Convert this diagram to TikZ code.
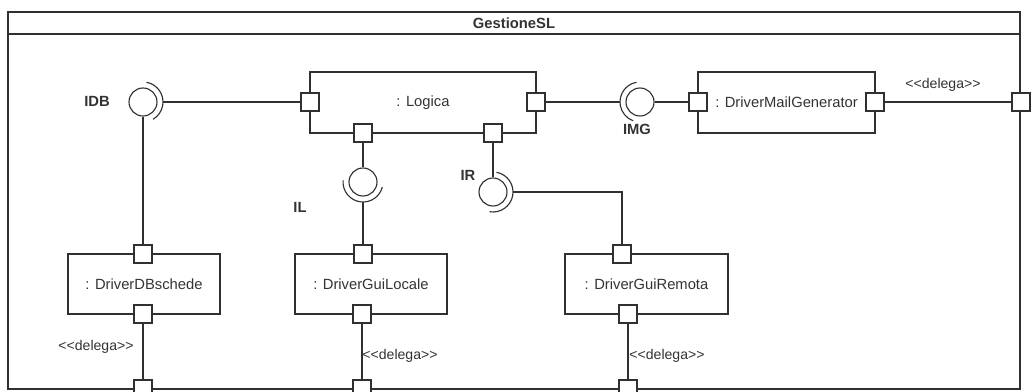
\documentclass[tikz,border=0pt]{standalone}
\usepackage{fontspec}
\setmainfont{Liberation Sans}
\usepackage{xcolor}
\usetikzlibrary{calc}

\definecolor{umlline}{HTML}{303030}
\definecolor{umltext}{HTML}{333333}
\newlength\px
\setlength\px{0.025cm}
\newcommand\delegalabel{<\kern0pt<delega>\kern0pt>}

\begin{document}
\begin{tikzpicture}[x=0.025cm, y=-0.025cm, line width=0.8pt, color=umlline,
    comp/.style={draw, rectangle, inner sep=0pt, minimum height=61\px, text=umltext, font=\fontsize{10.5}{12}\selectfont},
    port/.style={draw, fill=white, rectangle, inner sep=0pt, minimum size=18\px},
    ball/.style={draw, circle, inner sep=0pt, minimum size=28\px},
    iface/.style={text=umltext, font=\bfseries\fontsize{10.5}{12}\selectfont},
    stereo/.style={text=umltext, font=\fontsize{10}{12}\selectfont}]
    \useasboundingbox (0,0) rectangle (1036,392);

    % frame
    \draw (8,12) rectangle (1020,389);
    \draw (8,34) -- (1020,34);
    \node[iface] (title) at (514,23) {GestioneSL};

    % components
    \node[comp, minimum width=226\px] (logica) at (423,102.5) {: Logica};
    \node[comp, minimum width=177\px] (mailgen) at (786.5,102.5) {: DriverMailGenerator};
    \node[comp, minimum width=152\px, minimum height=60\px] (dbschede) at (144,284) {: DriverDBschede};
    \node[comp, minimum width=152\px, minimum height=60\px] (guilocale) at (371,284) {: DriverGuiLocale};
    \node[comp, minimum width=163\px, minimum height=60\px] (guiremota) at (646.5,284) {: DriverGuiRemota};

    % ports
    \node[port] (logW) at (310,102) {};
    \node[port] (logS1) at (363,133) {};
    \node[port] (logS2) at (493,133) {};
    \node[port] (logE) at (536,102) {};
    \node[port] (mailW) at (698,102) {};
    \node[port] (mailE) at (875,102) {};
    \node[port] (frameE) at (1021,102) {};
    \node[port] (dbN) at (143,254) {};
    \node[port] (dbS) at (143,314) {};
    \node[port] (glN) at (363,254) {};
    \node[port] (glS) at (362,314) {};
    \node[port] (grN) at (622,254) {};
    \node[port] (grS) at (628,314) {};
    \node[port] (frameS1) at (143,389) {};
    \node[port] (frameS2) at (362,389) {};
    \node[port] (frameS3) at (628,389) {};

    % interfaces: ball + socket
    \node[ball] (idb) at (143,102) {};
    \node[ball] (img) at (640,102) {};
    \node[ball] (il) at (363,182) {};
    \node[ball] (ir) at (493,192) {};
    \draw ($(idb)+(80:20\px)$) arc[start angle=80, end angle=-60, radius=20\px];
    \draw ($(img)+(100:20\px)$) arc[start angle=100, end angle=250, radius=20\px];
    \draw ($(il)+(175:20\px)$) arc[start angle=175, end angle=345, radius=20\px];
    \draw ($(ir)+(80:20\px)$) arc[start angle=80, end angle=-100, radius=20\px];
    \coordinate (idbS) at ($(idb)+(0:20\px)$);
    \coordinate (imgS) at ($(img)+(180:20\px)$);
    \coordinate (ilS) at ($(il)+(270:20\px)$);
    \coordinate (irS) at ($(ir)+(0:20\px)$);

    \node[iface] (idbL) at (97,101) {IDB};
    \node[iface] (imgL) at (637,129) {IMG};
    \node[iface] (ilL) at (300,207) {IL};
    \node[iface] (irL) at (468,175) {IR};

    % connectors
    \draw (idbS) -- (logW.west);
    \draw (idb.south) -- (dbN.north);
    \draw (logE.east) -- (imgS);
    \draw (img.east) -- (mailW.west);
    \draw (mailE.east) -- (frameE.west);
    \draw (logS1.south) -- (il.north);
    \draw (ilS) -- (glN.north);
    \draw (logS2.south) -- (ir.north);
    \draw (irS) -| (grN.north);
    \draw (dbS.south) -- (frameS1.north);
    \draw (glS.south) -- (frameS2.north);
    \draw (grS.south) -- (frameS3.north);

    \node[stereo] (del1) at (943,85) {\delegalabel};
    \node[stereo] (del2) at (96,347) {\delegalabel};
    \node[stereo] (del3) at (400,356) {\delegalabel};
    \node[stereo] (del4) at (667,356) {\delegalabel};
\end{tikzpicture}
\end{document}
